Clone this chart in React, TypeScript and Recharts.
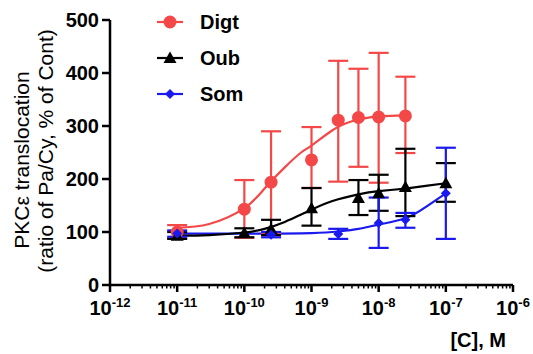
import { ComposedChart, Line, Scatter, XAxis, YAxis, ErrorBar } from 'recharts'

const RED = '#f44848'
const BLACK = '#000000'
const BLUE = '#1a1aef'

// measured points (concentration, mean, error bar ends)
const DIGT_C = [1e-11, 1e-10, 2.5e-10, 1e-9, 2.5e-9, 5e-9, 1e-8, 2.5e-8]
const DIGT_MEAN = [100, 143, 194, 236, 311, 316, 317, 319]
const DIGT_HI = [113, 198, 290, 298, 423, 408, 438, 393]
const DIGT_LO = [88, 89, 98, 183, 195, 223, 193, 249]

const OUB_C = [1e-11, 1e-10, 2.5e-10, 1e-9, 5e-9, 1e-8, 2.5e-8, 1e-7]
const OUB_MEAN = [93, 98, 105, 145, 164, 173, 185, 192]
const OUB_HI = [100, 107, 123, 183, 198, 208, 257, 230]
const OUB_LO = [87, 90, 94, 112, 132, 140, 130, 157]

const SOM_C = [1e-11, 2.5e-10, 2.5e-9, 1e-8, 2.5e-8, 1e-7]
const SOM_MEAN = [97, 95, 96, 117, 123, 173]
const SOM_HI = [103, 100, 106, 165, 136, 259]
const SOM_LO = [91, 90, 87, 70, 108, 87]

// fitted curves
const DIGT_FIT_C = [1e-11, 3e-11, 1e-10, 2e-10, 4e-10, 7e-10, 1e-9, 2e-9, 4e-9, 1e-8, 2.5e-8]
const DIGT_FIT = [108, 115, 145, 182, 222, 250, 263, 291, 309, 318, 320]

const OUB_FIT_C = [1e-11, 3e-11, 1e-10, 2e-10, 4e-10, 7e-10, 1e-9, 2e-9, 5e-9, 1e-8, 2.5e-8, 5e-8, 1e-7]
const OUB_FIT = [93, 94, 99, 106, 119, 133, 142, 158, 171, 177, 182, 187, 192]

const SOM_FIT_C = [1e-11, 1e-10, 1e-9, 2.5e-9, 5e-9, 1e-8, 2.5e-8, 5e-8, 1e-7]
const SOM_FIT = [97, 97, 98, 101, 106, 114, 126, 147, 173]

const X_MAJOR = [1e-12, 1e-11, 1e-10, 1e-9, 1e-8, 1e-7, 1e-6]
const X_EXP = ['-12', '-11', '-10', '-9', '-8', '-7', '-6']
const Y_TICKS = [0, 100, 200, 300, 400, 500]

const X_MINOR = X_MAJOR.slice(0, -1).flatMap((m) => [2, 3, 4, 5, 6, 7, 8, 9].map((k) => k * m))
const X_TICKS = [...X_MAJOR, ...X_MINOR].sort((a, b) => a - b)

const points = (c: number[], mean: number[], hi: number[], lo: number[]) =>
  c.map((x, i) => ({ x, y: mean[i], err: [mean[i] - lo[i], hi[i] - mean[i]] }))
const curve = (c: number[], v: number[]) => c.map((x, i) => ({ x, y: v[i] }))

const digtPts = points(DIGT_C, DIGT_MEAN, DIGT_HI, DIGT_LO)
const oubPts = points(OUB_C, OUB_MEAN, OUB_HI, OUB_LO)
const somPts = points(SOM_C, SOM_MEAN, SOM_HI, SOM_LO)

const Circle = ({ cx, cy }: any) => <circle cx={cx} cy={cy} r={6.5} fill={RED} />
const Triangle = ({ cx, cy }: any) => (
  <polygon points={`${cx},${cy - 6.5} ${cx - 6.5},${cy + 5} ${cx + 6.5},${cy + 5}`} fill={BLACK} />
)
const Diamond = ({ cx, cy }: any) => (
  <polygon points={`${cx},${cy - 5} ${cx + 5},${cy} ${cx},${cy + 5} ${cx - 5},${cy}`} fill={BLUE} />
)

function XTick(props: any) {
  const { x, y, payload } = props
  const i = X_MAJOR.indexOf(payload.value)
  const major = i >= 0
  return (
    <g>
      <line x1={x} x2={x} y1={y} y2={y + (major ? 7 : 3.5)} stroke="#000" strokeWidth={major ? 2.5 : 1.5} />
      {major && (
        <text x={x} y={y + 30} textAnchor="middle" fontSize={20} fontWeight="bold" fill="#000">
          10
          <tspan fontSize={13} dy={-8}>
            {X_EXP[i]}
          </tspan>
        </text>
      )}
    </g>
  )
}

const YTitle = () => (
  <g fontSize={21} fill="#000">
    <text x={29} y={160} textAnchor="middle" transform="rotate(-90, 29, 160)">
      PKCε translocation
    </text>
    <text x={53} y={151} textAnchor="middle" transform="rotate(-90, 53, 151)">
      (ratio of Pa/Cy, % of Cont)
    </text>
  </g>
)

const XTitle = () => (
  <text x={506} y={347} textAnchor="end" fontSize={20} fontWeight="bold" fill="#000">
    [C], M
  </text>
)

const legendItems = [
  { name: 'Digt', color: RED, Shape: Circle },
  { name: 'Oub', color: BLACK, Shape: Triangle },
  { name: 'Som', color: BLUE, Shape: Diamond },
]

export default function App() {
  return (
    <div
      style={{
        position: 'absolute',
        left: 0,
        top: 0,
        width: 533,
        height: 354,
        background: '#fff',
        fontFamily: '"Liberation Sans", Arial, sans-serif',
      }}
    >
      <ComposedChart width={533} height={354} margin={{ top: 20, right: 20, bottom: 0, left: 0 }}>
        <XAxis
          dataKey="x"
          type="number"
          scale="log"
          domain={[1e-12, 1e-6]}
          ticks={X_TICKS}
          interval={0}
          allowDataOverflow
          height={69}
          axisLine={{ stroke: '#000', strokeWidth: 2.5 }}
          tickLine={false}
          tickSize={0}
          tickMargin={0}
          tick={<XTick />}
          label={{ content: <XTitle /> }}
        />
        <YAxis
          dataKey="y"
          type="number"
          domain={[0, 500]}
          ticks={Y_TICKS}
          interval={0}
          width={110}
          axisLine={{ stroke: '#000', strokeWidth: 2.5 }}
          tickLine={{ stroke: '#000', strokeWidth: 2.5 }}
          tickSize={8}
          tickMargin={3}
          tick={{ fontSize: 20, fontWeight: 'bold', fill: '#000' }}
          label={{ content: <YTitle /> }}
        />
        <Line data={curve(SOM_FIT_C, SOM_FIT)} dataKey="y" type="natural" stroke={BLUE} strokeWidth={2.2} dot={false} isAnimationActive={false} />
        <Line data={curve(OUB_FIT_C, OUB_FIT)} dataKey="y" type="natural" stroke={BLACK} strokeWidth={2.2} dot={false} isAnimationActive={false} />
        <Line data={curve(DIGT_FIT_C, DIGT_FIT)} dataKey="y" type="natural" stroke={RED} strokeWidth={2.2} dot={false} isAnimationActive={false} />
        <Scatter data={digtPts} dataKey="y" shape={<Circle />} isAnimationActive={false}>
          <ErrorBar dataKey="err" direction="y" width={10} stroke={RED} strokeWidth={2.2} />
        </Scatter>
        <Scatter data={oubPts} dataKey="y" shape={<Triangle />} isAnimationActive={false}>
          <ErrorBar dataKey="err" direction="y" width={10} stroke={BLACK} strokeWidth={2.2} />
        </Scatter>
        <Scatter data={somPts} dataKey="y" shape={<Diamond />} isAnimationActive={false}>
          <ErrorBar dataKey="err" direction="y" width={10} stroke={BLUE} strokeWidth={2.2} />
        </Scatter>
      </ComposedChart>
      {legendItems.map((it, i) => (
        <div key={it.name} style={{ position: 'absolute', left: 155, top: 10 + i * 36, height: 24, display: 'flex', alignItems: 'center' }}>
          <svg width={30} height={24}>
            <line x1={2} x2={28} y1={12} y2={12} stroke={it.color} strokeWidth={2.2} />
            <it.Shape cx={15} cy={12} />
          </svg>
          <span style={{ marginLeft: 15, fontSize: 20, fontWeight: 'bold', color: '#000', lineHeight: '24px' }}>{it.name}</span>
        </div>
      ))}
    </div>
  )
}
